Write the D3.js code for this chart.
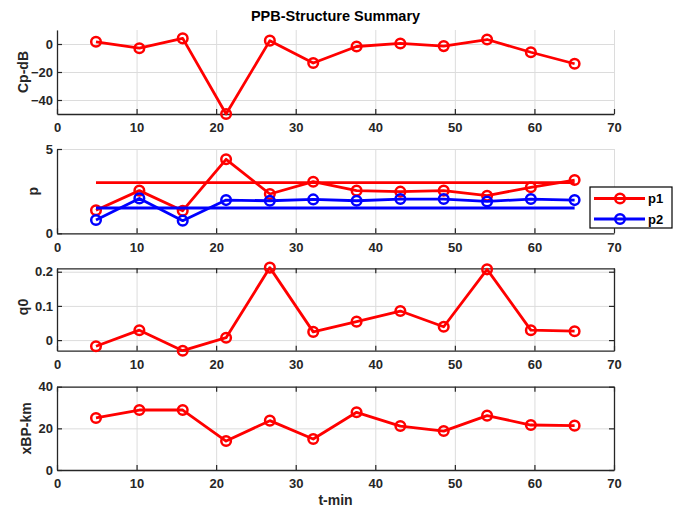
<!DOCTYPE html>
<html>
<head>
<meta charset="utf-8">
<script src="https://cdn.jsdelivr.net/npm/d3@7"></script>
<style>
  html, body { margin: 0; padding: 0; background: #fff; }
  svg { display: block; font-family: "Liberation Sans", Arial, Helvetica, sans-serif; font-weight: bold; }
</style>
</head>
<body>
<svg id="chart" width="688" height="509"></svg>
<script>
// Sample times (minutes)
const tMin = [4.9, 10.35, 15.8, 21.25, 26.75, 32.2, 37.65, 43.15, 48.6, 54.05, 59.55, 65.05];
// Cp in dB
const cpDb = [1.6, -3.0, 4.0, -50, 2.4, -13.6, -1.8, 0.4, -1.5, 3.2, -5.9, -14.1];
// Structure parameters p1 / p2 and their reference levels
const p1 = [1.37, 2.53, 1.34, 4.39, 2.33, 3.06, 2.53, 2.47, 2.53, 2.23, 2.73, 3.16];
const p2 = [0.79, 2.07, 0.75, 1.97, 1.93, 2.01, 1.93, 2.03, 2.03, 1.89, 2.03, 1.97];
const p1Ref = 3.0;
const p2Ref = 1.5;
// q0
const q0 = [-0.018, 0.029, -0.031, 0.007, 0.212, 0.024, 0.054, 0.085, 0.039, 0.207, 0.029, 0.026];
// Break point distance (km)
const xBpKm = [25.0, 28.8, 28.8, 13.9, 23.7, 14.9, 27.7, 21.1, 18.7, 26.1, 21.6, 21.3];

// Tick values
const xTicks = [0, 10, 20, 30, 40, 50, 60, 70];
const cpTicks = [-40, -20, 0];
const pTicks = [0, 5];
const qTicks = [0, 0.1, 0.2];
const xbpTicks = [0, 20, 40];

const legendLabels = ["p1", "p2"];
const RED = "#ff0000", BLUE = "#0000ff", AXIS = "#262626", GRID = "#dcdcdc";
const MARKER_R = 4.8;

const svg = d3.select("#chart");
const X0 = 57, X1 = 614;
const x = d3.scaleLinear().domain([0, 70]).range([X0, X1]);

function panel(opt) {
  const y = d3.scaleLinear().domain(opt.domain).range([opt.bottom, opt.top]);
  const g = svg.append("g");
  const w = X1 - X0, h = opt.bottom - opt.top;

  // grid
  const gy = g.append("g").call(d3.axisLeft(y).tickValues(opt.yTicks).tickSize(-w).tickFormat(""))
    .attr("transform", `translate(${X0},0)`);
  const gx = g.append("g").call(d3.axisBottom(x).tickValues(xTicks).tickSize(-h).tickFormat(""))
    .attr("transform", `translate(0,${opt.bottom})`);
  [gy, gx].forEach(s => {
    s.select(".domain").remove();
    s.selectAll("line").attr("stroke", GRID).attr("stroke-width", 1);
  });

  // axes (inward ticks)
  const ax = [];
  ax.push(g.append("g").attr("transform", `translate(${X0},0)`)
    .call(d3.axisLeft(y).tickValues(opt.yTicks).tickSizeInner(-5).tickSizeOuter(0).tickPadding(4)
      .tickFormat(opt.fmt || d3.format("d"))));
  ax.push(g.append("g").attr("transform", `translate(0,${opt.bottom})`)
    .call(d3.axisBottom(x).tickValues(xTicks).tickSizeInner(-5).tickSizeOuter(0).tickPadding(9)));
  if (opt.box) {
    ax.push(g.append("g").attr("transform", `translate(0,${opt.top})`)
      .call(d3.axisTop(x).tickValues(xTicks).tickSizeInner(-5).tickSizeOuter(0).tickFormat("")));
    ax.push(g.append("g").attr("transform", `translate(${X1},0)`)
      .call(d3.axisRight(y).tickValues(opt.yTicks).tickSizeInner(-5).tickSizeOuter(0).tickFormat("")));
  }
  ax.forEach(s => {
    s.select(".domain").attr("stroke", AXIS).attr("stroke-width", 1.3);
    s.selectAll("line").attr("stroke", AXIS).attr("stroke-width", 1.2);
    s.selectAll("text").attr("fill", "#262626").attr("font-size", 13)
      .attr("font-family", null).attr("font-weight", "bold");
  });
  // y label
  g.append("text")
    .attr("transform", `translate(${opt.labelX},${opt.labelY ?? (opt.top + opt.bottom) / 2}) rotate(-90)`)
    .attr("text-anchor", "middle").attr("font-size", 14).attr("fill", "#262626")
    .text(opt.label);
  return { g, y };
}

function series(p, values, color) {
  const line = d3.line().x((d, i) => x(tMin[i])).y(d => p.y(d));
  p.g.append("path").datum(values).attr("d", line)
    .attr("fill", "none").attr("stroke", color).attr("stroke-width", 2.8).attr("stroke-linejoin", "round");
  p.g.selectAll(null).data(values).enter().append("circle")
    .attr("cx", (d, i) => x(tMin[i])).attr("cy", d => p.y(d)).attr("r", MARKER_R)
    .attr("fill", "none").attr("stroke", color).attr("stroke-width", 2.5);
}

function refLine(p, v, color) {
  p.g.append("line")
    .attr("x1", x(tMin[0])).attr("x2", x(tMin[tMin.length - 1]))
    .attr("y1", p.y(v)).attr("y2", p.y(v))
    .attr("stroke", color).attr("stroke-width", 2.8);
}

// Title
svg.append("text").attr("x", (X0 + X1) / 2).attr("y", 21).attr("text-anchor", "middle")
  .attr("font-size", 14.5).attr("fill", "#000").text("PPB-Structure Summary");

// Cp-dB
const pCp = panel({ domain: [-50, 10], top: 30, bottom: 114, yTicks: cpTicks, label: "Cp-dB", labelX: 28 });
series(pCp, cpDb, RED);

// p
const pP = panel({ domain: [0, 5], top: 149, bottom: 233.3, yTicks: pTicks, label: "p", labelX: 38 });
series(pP, p1, RED);
series(pP, p2, BLUE);
refLine(pP, p1Ref, RED);
refLine(pP, p2Ref, BLUE);

// q0
const pQ = panel({ domain: [-0.031, 0.21], top: 268.3, bottom: 350.7, yTicks: qTicks, label: "q0",
  labelX: 28, labelY: 307, box: true, fmt: d => d === 0 ? "0" : d3.format(".1f")(d) });
series(pQ, q0, RED);

// xBP-km
const pX = panel({ domain: [0, 40], top: 386.7, bottom: 470, yTicks: xbpTicks, label: "xBP-km", labelX: 31, box: true });
series(pX, xBpKm, RED);

// x label
svg.append("text").attr("x", (X0 + X1) / 2).attr("y", 505).attr("text-anchor", "middle")
  .attr("font-size", 14).attr("fill", "#262626").text("t-min");

// Legend
const lg = svg.append("g");
lg.append("rect").attr("x", 590).attr("y", 187).attr("width", 82).attr("height", 41)
  .attr("fill", "#fff").attr("stroke", "#000").attr("stroke-width", 1.2);
const legendItems = legendLabels.map((name, i) => ({ name, color: [RED, BLUE][i], y: [198.5, 219][i] }));
legendItems.forEach(it => {
  lg.append("line").attr("x1", 594).attr("x2", 645).attr("y1", it.y).attr("y2", it.y)
    .attr("stroke", it.color).attr("stroke-width", 2.8);
  lg.append("circle").attr("cx", 620).attr("cy", it.y).attr("r", MARKER_R)
    .attr("fill", "none").attr("stroke", it.color).attr("stroke-width", 2.5);
  lg.append("text").attr("x", 648).attr("y", it.y + 4.5).attr("font-size", 13)
    .attr("fill", "#000").text(it.name);
});
</script>
</body>
</html>
